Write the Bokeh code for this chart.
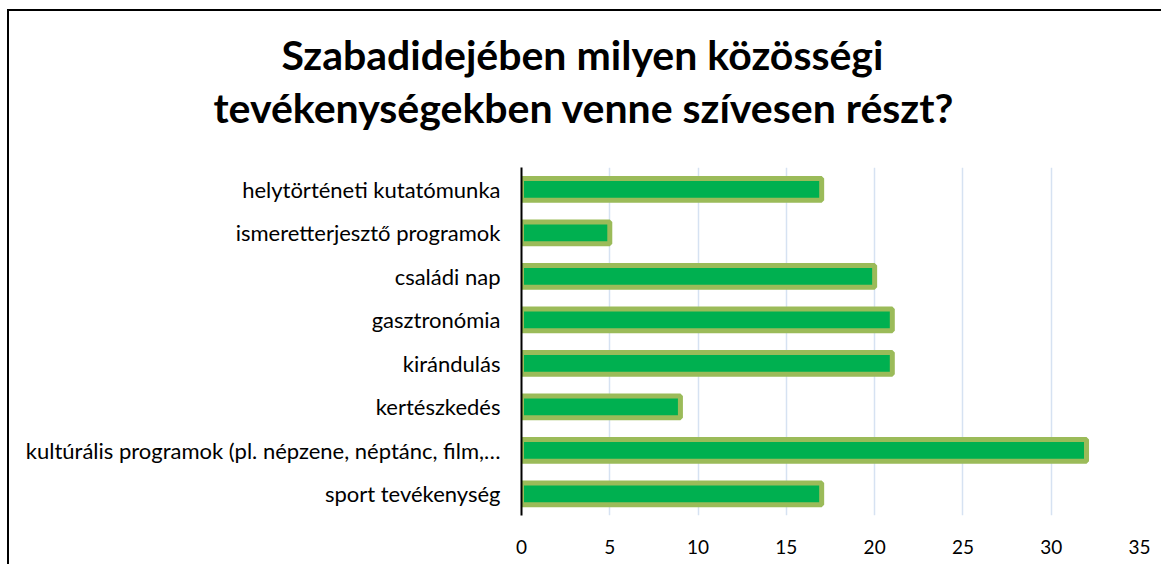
from bokeh.plotting import figure
from bokeh.layouts import column
from bokeh.models import FactorRange, Range1d, Title, FixedTicker
from bokeh.embed import file_html
from bokeh.resources import INLINE

categories = [
    "helytörténeti kutatómunka",
    "ismeretterjesztő programok",
    "családi nap",
    "gasztronómia",
    "kirándulás",
    "kertészkedés",
    "kultúrális programok (pl. népzene, néptánc, film,…",
    "sport tevékenység",
]
values = [17, 5, 20, 21, 21, 9, 32, 17]
x_ticks = [0, 5, 10, 15, 20, 25, 30, 35]
title_lines = ["Szabadidejében milyen közösségi", "tevékenységekben venne szívesen részt?"]

FONT = "Lato"
W = 1152

# title block (its own figure; the column aligns its frame with the chart's frame)
tf = figure(width=W, height=156, output_backend="svg", toolbar_location=None,
            x_axis_location=None, y_axis_location=None,
            min_border_left=512, min_border_right=22, min_border_top=121, min_border_bottom=0)
tf.title = None
tf.outline_line_color = None
tf.xgrid.visible = False
tf.ygrid.visible = False
tf.add_layout(Title(text=title_lines[1], align="left", offset=-308, text_font=FONT,
                    text_font_size="41px", text_font_style="bold", text_color="black",
                    standoff=2), "above")
tf.add_layout(Title(text=title_lines[0], align="left", offset=-240, text_font=FONT,
                    text_font_size="41px", text_font_style="bold", text_color="black",
                    standoff=2), "above")

p = figure(
    width=W, height=397,
    y_range=FactorRange(factors=list(reversed(categories)), range_padding=0),
    x_range=Range1d(0, 35),
    output_backend="svg", toolbar_location=None,
    min_border_left=512, min_border_right=22, min_border_top=0, min_border_bottom=49,
)
p.title = None
p.outline_line_color = None

p.hbar(y=categories, right=values, left=0, height=0.5,
       fill_color="#00B050", line_color="#9BBB59", line_width=5)

p.xaxis.ticker = FixedTicker(ticks=x_ticks)
p.xaxis.axis_line_color = None
p.xaxis.major_tick_line_color = None
p.xaxis.minor_tick_line_color = None
p.xaxis.major_tick_out = 0
p.xaxis.major_label_standoff = 24
p.xaxis.major_label_text_font = FONT
p.xaxis.major_label_text_font_size = "19px"
p.xaxis.major_label_text_color = "black"

p.yaxis.axis_line_color = "black"
p.yaxis.axis_line_width = 2
p.yaxis.major_tick_line_color = None
p.yaxis.minor_tick_line_color = None
p.yaxis.major_tick_out = 0
p.yaxis.major_label_standoff = 21
p.yaxis.major_label_text_font = FONT
p.yaxis.major_label_text_font_size = "22px"
p.yaxis.major_label_text_color = "black"

p.xgrid.grid_line_color = "#D6E2F2"
p.xgrid.grid_line_width = 1.5
p.ygrid.grid_line_color = None

layout = column(tf, p, spacing=0)
layout.styles = {"margin-left": "7px", "margin-top": "9px",
                 "border-left": "2px solid black", "border-top": "2px solid black"}

open("out.html", "w").write(file_html(layout, INLINE))
